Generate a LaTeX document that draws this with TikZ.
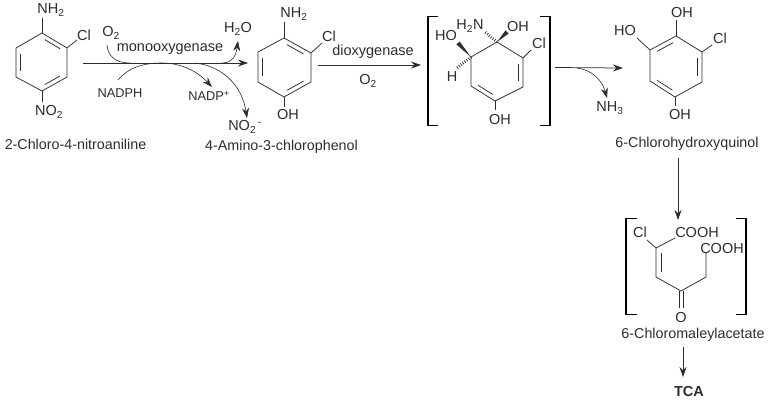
\documentclass[tikz,border=0pt]{standalone}
\usepackage{fontspec}
\setmainfont{Liberation Sans}
\usetikzlibrary{calc,arrows.meta}
\definecolor{ink}{RGB}{45,45,45}
\newcommand{\sbs}[1]{\textsubscript{#1}}
\newcommand{\ringsix}[7]{%
 \coordinate (#1a) at #2; \coordinate (#1b) at #3; \coordinate (#1c) at #4;
 \coordinate (#1d) at #5; \coordinate (#1e) at #6; \coordinate (#1f) at #7;
 \coordinate (#1o) at ($(#1a)!.5!(#1d)$);
 \draw[bond,line join=round] (#1a)--(#1b)--(#1c)--(#1d)--(#1e)--(#1f)--cycle;}
\newcommand{\dbl}[3]{\draw[bond] ($(#1)!.13!(#2)!.17!(#3)$) -- ($(#2)!.13!(#1)!.17!(#3)$);}
\newcommand{\wedgebond}[2]{\fill[ink] (#1) -- ($(#2)!2.2pt!90:(#1)$) -- ($(#2)!2.2pt!-90:(#1)$) -- cycle;}
\begin{document}
\begin{tikzpicture}[x=1pt,y=-1pt,
  bond/.style={draw=ink,line width=0.75pt},
  hashbond/.style={draw=ink,line width=3pt,dash pattern=on 0.7pt off 1.7pt},
  arr/.style={draw=ink,line width=0.75pt,-{Stealth[length=10pt,width=7pt]}},
  curve/.style={draw=ink,line width=0.6pt},
  brk/.style={draw=black,line width=1.5pt},
  txt/.style={font=\fontsize{14.5}{15}\selectfont,text=ink,inner sep=0pt},
  lab/.style={font=\fontsize{14.3}{15}\selectfont,text=ink,inner sep=0pt},
  small/.style={font=\fontsize{12.8}{14}\selectfont,text=ink,inner sep=0pt}]
\useasboundingbox (0,0) rectangle (770,400);
\fill[white] (0,0) rectangle (770,400);

% --- 2-Chloro-4-nitroaniline
\ringsix{p}{(42,33)}{(67,48)}{(67,77)}{(42,91)}{(16,77)}{(16,48)}
\dbl{pa}{pb}{po}\dbl{pc}{pd}{po}\dbl{pe}{pf}{po}
\node[txt] (pnh) at (51,10) {NH\sbs{2}};
\node[txt] (pcl) at (84,35) {Cl};
\node[txt] (pno) at (49,112) {NO\sbs{2}};
\draw[bond] (pa) -- (42,18);
\draw[bond] (pb) -- (77,40);
\draw[bond] (pd) -- (42,102);
\node[lab] (pname) at (75.5,144) {2-Chloro-4-nitroaniline};

% --- first step
\coordinate (a1s) at (83,63); \coordinate (a1e) at (248,63);
\draw[arr] (a1s) -- (a1e);
\node[txt] (mono) at (170,49) {monooxygenase};
\node[txt] (o2a) at (111,33) {O\sbs{2}};
\node[txt] (h2o) at (238,29) {H\sbs{2}O};
\node[small] (nadph) at (120,93) {NADPH};
\node[small] (nadp) at (209,96) {NADP\textsuperscript{+}};
\node[txt] (no2m) at (245,127) {NO\sbs{2}\textsuperscript{\,-}};
\draw[curve] (107,45) .. controls (108,56) and (115,63) .. (130,63);
\draw[curve] (130,63) -- (222,63);
\draw[arr,line width=0.6pt] (222,63) .. controls (232,63) and (236,56) .. (238,41);
\draw[curve] (118,80) .. controls (128,68) and (142,63) .. (162,63);
\draw[arr,line width=0.6pt] (162,63) .. controls (182,63) and (198,72) .. (212,87);
\draw[arr,line width=0.6pt] (195,63) .. controls (222,66) and (242,85) .. (247,118);

% --- 4-Amino-3-chlorophenol
\ringsix{q}{(284,38)}{(311,53)}{(311,82)}{(284,97)}{(258,82)}{(258,52)}
\dbl{qa}{qb}{qo}\dbl{qc}{qd}{qo}\dbl{qe}{qf}{qo}
\node[txt] (qnh) at (294,14) {NH\sbs{2}};
\node[txt] (qcl) at (329,36) {Cl};
\node[txt] (qoh) at (288,115) {OH};
\draw[bond] (qa) -- (284,22);
\draw[bond] (qb) -- (322,43);
\draw[bond] (qd) -- (284,107);
\node[lab] (qname) at (281.5,147) {4-Amino-3-chlorophenol};

% --- second step
\coordinate (a2s) at (318,65); \coordinate (a2e) at (421,65);
\draw[arr] (a2s) -- (a2e);
\node[txt] (diox) at (373,52) {dioxygenase};
\node[txt] (o2b) at (368,81) {O\sbs{2}};

% --- diol intermediate
\draw[brk] (438,16.5) -- (428,16.5) -- (428,125.5) -- (438,125.5);
\draw[brk] (540,16.5) -- (550,16.5) -- (550,125.5) -- (540,125.5);
\ringsix{r}{(497,42)}{(523,58)}{(523,87)}{(495,101)}{(471,86)}{(471,57)}
\coordinate (ro) at (497,72);
\dbl{rb}{rc}{ro}\dbl{rd}{re}{ro}
\node[txt] (roh) at (500,120) {OH};
\node[txt] (rho) at (446,36) {HO};
\node[txt] (rnh) at (470,26) {H\sbs{2}N};
\node[txt] (roh2) at (518,27) {OH};
\node[txt] (rcl) at (539,43) {Cl};
\node[txt] (rh) at (452,77) {H};
\draw[bond] (rd) -- (495,110);
\draw[bond] (rb) -- (531,50);
\coordinate (w1) at (458,43); \coordinate (w2) at (507,32);
\coordinate (h1) at (485,32); \coordinate (h2) at (457,68);
\wedgebond{rf}{w1}
\wedgebond{ra}{w2}
\draw[hashbond] (ra) -- (h1);
\draw[hashbond] (rf) -- (h2);

% --- third step
\coordinate (a3s) at (555,67.5); \coordinate (a3e) at (623,68);
\draw[arr] (a3s) -- (a3e);
\draw[arr,line width=0.6pt] (577,68) .. controls (592,70) and (602,80) .. (607,98);
\node[txt] (nh3) at (610,108) {NH\sbs{3}};

% --- 6-Chlorohydroxyquinol
\ringsix{s}{(676,36)}{(702,52)}{(702,82)}{(675,97)}{(650,81)}{(650,50)}
\dbl{sa}{sf}{so}\dbl{sb}{sc}{so}\dbl{sd}{se}{so}
\node[txt] (soh) at (682,13) {OH};
\node[txt] (sho) at (625,31) {HO};
\node[txt] (scl) at (720,38) {Cl};
\node[txt] (soh2) at (680,115) {OH};
\draw[bond] (sa) -- (676,20);
\draw[bond] (sf) -- (637,38);
\draw[bond] (sb) -- (712,45);
\draw[bond] (sd) -- (675,106);
\node[lab] (sname) at (687,144) {6-Chlorohydroxyquinol};

% --- fourth step
\coordinate (a4s) at (678,158); \coordinate (a4e) at (678,220);
\draw[arr] (a4s) -- (a4e);

% --- 6-Chloromaleylacetate
\draw[brk] (637,218.5) -- (626,218.5) -- (626,314.5) -- (637,314.5);
\draw[brk] (736,218.5) -- (746,218.5) -- (746,314.5) -- (736,314.5);
\coordinate (t1) at (656,248); \coordinate (t2) at (656,277);
\coordinate (t3) at (681,291); \coordinate (t4) at (706,277); \coordinate (t5) at (706,253);
\node[txt] (tcl) at (640,232) {Cl};
\node[txt] (tc1) at (697,233) {COOH};
\node[txt] (tc2) at (722,248) {COOH};
\node[txt] (to) at (681,317) {O};
\draw[bond] (t1) -- (t2) -- (t3) -- (t4) -- (t5);
\draw[bond] (t1) -- (647,240);
\draw[bond] (t1) -- (675,238);
\draw[bond] (661,253) -- (661,272);
\draw[bond] (679.5,291) -- (679.5,308);
\draw[bond] (683,291) -- (683,308);
\node[lab] (tname) at (693,335) {6-Chloromaleylacetate};

% --- fifth step
\coordinate (a5s) at (683,347); \coordinate (a5e) at (683,377);
\draw[arr] (a5s) -- (a5e);
\node[txt,font=\fontsize{14.5}{15}\selectfont\bfseries] (tca) at (689,391) {TCA};
\end{tikzpicture}
\end{document}
